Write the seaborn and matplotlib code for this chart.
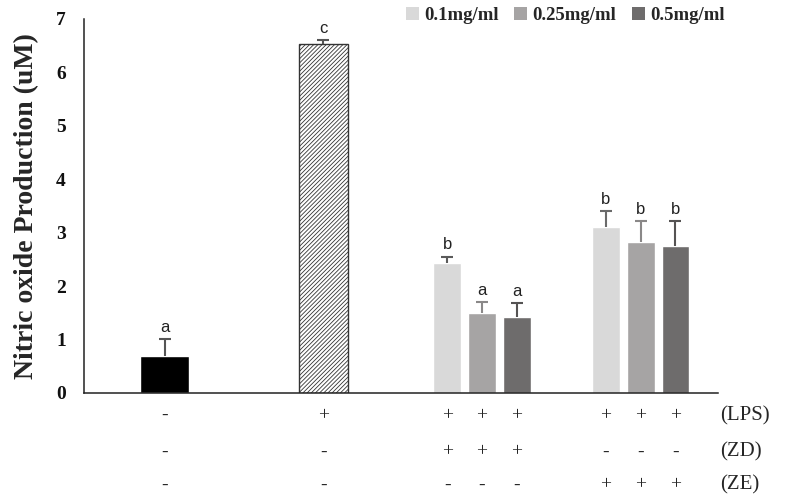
import pandas as pd
import seaborn as sns
import matplotlib.pyplot as plt
from matplotlib.patches import Patch

# bar data, left to right
group = ['Control', 'LPS', 'ZD', 'ZD', 'ZD', 'ZE', 'ZE', 'ZE']
conc = ['none', 'lps', '0.1mg/ml', '0.25mg/ml', '0.5mg/ml', '0.1mg/ml', '0.25mg/ml', '0.5mg/ml']
values = [0.69, 6.54, 2.43, 1.50, 1.42, 3.11, 2.83, 2.75]
errors = [0.32, 0.07, 0.12, 0.20, 0.26, 0.30, 0.39, 0.47]
letters = ['a', 'c', 'b', 'a', 'a', 'b', 'b', 'b']

# treatment table under the axis
lps = ['-', '+', '+', '+', '+', '+', '+', '+']
zd = ['-', '-', '+', '+', '+', '-', '-', '-']
ze = ['-', '-', '-', '-', '-', '+', '+', '+']
row_names = ['(LPS)', '(ZD)', '(ZE)']

palette = {'none': '#000000', 'lps': '#ffffff',
           '0.1mg/ml': '#d9d9d9', '0.25mg/ml': '#a6a4a4', '0.5mg/ml': '#6e6c6c'}
err_colors = ['#555555', '#555555', '#5a5a5a', '#8a8888', '#555353', '#6a6a6a', '#8a8888', '#555353']

# x position: group slot + dodge inside the extract groups
group_idx = {'Control': 0, 'LPS': 1, 'ZD': 2, 'ZE': 3}
dodge = {'none': 0, 'lps': 0, '0.1mg/ml': -0.22, '0.25mg/ml': 0.0, '0.5mg/ml': 0.22}
pos = [group_idx[g] + 0.51 + dodge[c] for g, c in zip(group, conc)]

df = pd.DataFrame({'pos': pos, 'value': values, 'conc': conc, 'group': group})

sns.set_style('white')
plt.rcParams['hatch.linewidth'] = 0.6

fig = plt.figure(figsize=(7.85, 4.96), dpi=100)
ax = fig.add_axes([0.107, 0.2077, 0.808, 0.754])

single = df[df['group'].isin(['Control', 'LPS'])]
multi = df[df['group'].isin(['ZD', 'ZE'])]
sns.barplot(data=single, x='pos', y='value', hue='conc', palette=palette,
            native_scale=True, dodge=False, width=0.31, legend=False, ax=ax)
sns.barplot(data=multi, x='pos', y='value', hue='conc', palette=palette,
            native_scale=True, dodge=False, width=0.8, legend=False, ax=ax)

for p in ax.patches:
    if p.get_facecolor()[:3] == (1.0, 1.0, 1.0):
        p.set_hatch('////////')
        p.set_edgecolor('#333333')
        p.set_linewidth(1.0)

for x, v, e, c, lab in zip(pos, values, errors, err_colors, letters):
    eb = ax.errorbar(x, v, yerr=[[0], [e]], fmt='none', ecolor=c, elinewidth=1.5,
                     capsize=4, capthick=1.5)
    eb[1][0].set_visible(False)  # only the upper cap
    ax.text(x, v + e + 0.08, lab, ha='center', va='bottom', fontsize=12,
            family='Liberation Sans', color='#222222')

ax.set_xlim(0, 4)
ax.set_ylim(0, 7)
ax.set_xticks([0, 1, 2, 3, 4])
ax.set_xticklabels([])
ax.set_xlabel('')
ax.set_yticks(range(8))
ax.set_yticklabels([str(i) for i in range(8)], fontsize=14, fontweight='bold',
                   family='Liberation Serif', color='#111111')
ax.tick_params(axis='x', direction='out', length=8, width=1, color='#222222')
ax.tick_params(axis='y', direction='out', length=5, width=1, color='#222222', pad=8)
sns.despine(ax=ax)
for s in ['left', 'bottom']:
    ax.spines[s].set_color('#222222')
    ax.spines[s].set_linewidth(1.1)

ax.set_ylabel('Nitric oxide Production (uM)', fontsize=20, fontweight='bold',
              family='Liberation Serif', labelpad=12)

trans = ax.get_xaxis_transform()
row_y = [-0.06, -0.158, -0.246]
for ry, row in zip(row_y, [lps, zd, ze]):
    for x, s in zip(pos, row):
        ax.text(x, ry, s, ha='center', va='center', fontsize=14,
                family='Liberation Serif', transform=trans, clip_on=False)
for ry, name in zip(row_y, row_names):
    ax.text(4.01, ry, name, ha='left', va='center', fontsize=15,
            family='Liberation Serif', transform=trans, clip_on=False)

handles = [Patch(facecolor=palette[k], edgecolor='none') for k in ['0.1mg/ml', '0.25mg/ml', '0.5mg/ml']]
fig.legend(handles, ['0.1mg/ml', '0.25mg/ml', '0.5mg/ml'], loc='center',
           bbox_to_anchor=(0.72, 0.968), ncol=3, frameon=False,
           handlelength=0.7, handleheight=0.7, handletextpad=0.3, columnspacing=0.8,
           prop={'family': 'Liberation Serif', 'weight': 'bold', 'size': 13.5})

fig.savefig('out.png', dpi=100)
